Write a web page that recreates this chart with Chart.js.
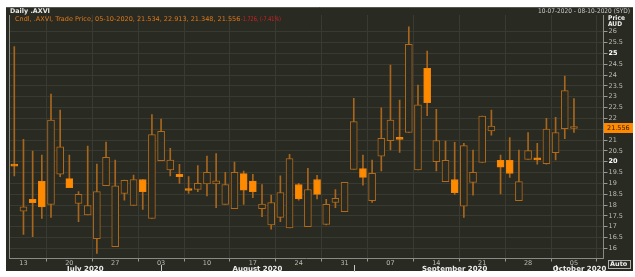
<!DOCTYPE html>
<html><head><meta charset="utf-8">
<script src="https://cdn.jsdelivr.net/npm/chart.js@4.4.0/dist/chart.umd.min.js"></script>
<style>html,body{margin:0;padding:0;background:#fff;overflow:hidden}canvas{display:block}</style>
</head><body>
<canvas id="c" width="635" height="277"></canvas>
<script>
// ---- data ----
const dates = [
 '2020-07-10','2020-07-13','2020-07-14','2020-07-15','2020-07-16','2020-07-17',
 '2020-07-20','2020-07-21','2020-07-22','2020-07-23','2020-07-24',
 '2020-07-27','2020-07-28','2020-07-29','2020-07-30','2020-07-31',
 '2020-08-03','2020-08-04','2020-08-05','2020-08-06','2020-08-07',
 '2020-08-10','2020-08-11','2020-08-12','2020-08-13','2020-08-14',
 '2020-08-17','2020-08-18','2020-08-19','2020-08-20','2020-08-21',
 '2020-08-24','2020-08-25','2020-08-26','2020-08-27','2020-08-28',
 '2020-08-31','2020-09-01','2020-09-02','2020-09-03','2020-09-04',
 '2020-09-07','2020-09-08','2020-09-09','2020-09-10','2020-09-11',
 '2020-09-14','2020-09-15','2020-09-16','2020-09-17','2020-09-18',
 '2020-09-21','2020-09-22','2020-09-23','2020-09-24','2020-09-25',
 '2020-09-28','2020-09-29','2020-09-30','2020-10-01','2020-10-02',
 '2020-10-05'
];
const open  = [19.87,17.72,18.26,19.09,18.03,19.43,19.22,18.08,17.54,16.45,18.89,16.08,18.54,17.98,19.18,17.38,
 20.05,19.62,19.42,18.70,18.72,18.97,18.97,18.03,17.83,19.45,19.11,17.83,17.08,17.43,16.95,18.95,17.00,19.18,17.11,18.12,
 17.69,19.65,19.68,18.20,20.26,20.97,21.12,21.35,19.62,24.31,20.00,19.08,19.18,17.95,19.05,19.97,21.42,20.06,20.06,18.20,
 20.11,20.18,19.91,20.42,21.52,21.534];
const high  = [25.31,21.03,20.49,20.31,23.12,22.38,20.31,18.62,20.72,19.89,20.91,20.08,19.15,19.38,19.18,22.18,
 21.97,20.62,19.88,19.31,19.82,20.26,20.38,19.51,19.98,19.57,19.42,18.95,18.46,19.35,20.34,19.00,19.69,19.37,18.26,18.72,
 19.05,22.92,20.31,20.08,22.49,24.46,22.85,26.23,23.54,25.11,22.42,20.95,20.89,20.85,20.54,22.11,22.38,20.31,21.11,20.54,
 21.34,20.85,22.00,22.05,23.95,22.913];
const low   = [19.34,16.65,16.54,17.38,17.43,19.31,18.80,17.23,17.54,15.77,18.89,16.08,18.23,17.98,17.80,17.38,
 20.05,19.34,19.00,18.54,18.62,18.42,17.88,18.03,17.83,18.03,18.34,17.46,16.89,17.23,16.95,18.23,17.00,18.28,17.08,17.88,
 17.69,19.65,18.92,18.12,19.57,20.54,20.43,21.35,19.62,22.12,19.58,19.08,18.49,17.43,18.46,19.97,21.23,18.51,19.28,18.20,
 20.11,19.89,19.89,20.08,21.06,21.348];
const close = [19.80,17.92,18.11,17.92,21.92,20.69,18.80,18.49,17.98,18.62,20.20,18.89,19.14,19.18,18.62,21.25,
 21.40,20.08,19.31,18.67,19.00,19.51,19.12,18.94,19.51,18.69,18.62,18.05,18.12,18.58,20.15,18.28,18.72,18.49,18.03,18.31,
 19.05,21.85,19.28,19.46,21.08,21.92,21.03,25.42,22.62,22.72,20.98,20.06,18.57,20.74,19.51,22.11,21.65,19.75,19.46,19.08,
 20.51,20.08,21.51,21.35,23.28,21.556];

const yTicks = [16,16.5,17,17.5,18,18.5,19,19.5,20,20.5,21,21.5,22,22.5,23,23.5,24,24.5,25,25.5,26];
const tickDates  = ['2020-07-13','2020-07-20','2020-07-27','2020-08-03','2020-08-10','2020-08-17','2020-08-24',
                    '2020-08-31','2020-09-07','2020-09-14','2020-09-21','2020-09-28','2020-10-05'];
const tickLabels = ['13','20','27','03','10','17','24','31','07','14','21','28','05'];
const monthLabels = ['July 2020','August 2020','September 2020','October 2020'];
const monthStarts = ['2020-07-10','2020-08-03','2020-09-01','2020-10-01'];

const titleText = 'Daily .AXVI';
const legendText = 'Cndl, .AXVI, Trade Price, 05-10-2020, 21.534, 22.913, 21.348, 21.556';
const changeText = '-1.726, (-7.41%)';
const rangeText = '10-07-2020 - 08-10-2020 (SYD)';
const lastPrice = 21.556;

// ---- styles ----
const BG = '#292a22', GRID = '#393a31', FRAME = '#8a8a84';
const UP_EDGE = '#b06a1a', DOWN_FILL = '#ff8a00', WICK = '#a8661c';
const FONT = '"DejaVu Sans", sans-serif';

const tickIdx = tickDates.map(d => dates.indexOf(d));
const isUp = i => close[i] >= open[i];
const isBold = ctx => !!(ctx && ctx.tick && (ctx.tick.value === 20 || ctx.tick.value === 25));

const deco = {
  id: 'deco',
  beforeDraw(chart) {
    const c = chart.ctx;
    c.save();
    c.fillStyle = '#ffffff'; c.fillRect(0, 0, 635, 277);
    c.fillStyle = BG; c.fillRect(6, 7, 627, 264);
    c.strokeStyle = '#55564f'; c.lineWidth = 1;
    c.beginPath(); c.moveTo(6, 7.5); c.lineTo(633, 7.5); c.stroke();
    c.restore();
  },
  afterDraw(chart) {
    const c = chart.ctx, a = chart.chartArea, xs = chart.scales.x, ys = chart.scales.y;
    c.save();
    c.strokeStyle = FRAME; c.lineWidth = 1;
    c.beginPath(); c.moveTo(9.5, a.top); c.lineTo(9.5, a.bottom + 0.5); c.stroke();
    c.textBaseline = 'middle';
    c.font = 'bold 6.5px ' + FONT; c.fillStyle = '#e8e8e8';
    c.fillText(titleText, 10, 11.5, 40);
    c.font = '6.5px ' + FONT; c.fillStyle = '#e07818';
    c.fillText(legendText, 15, 19.5, 226);
    c.fillStyle = '#d42020';
    c.fillText(changeText, 241, 19.5, 40);
    c.fillStyle = '#c8c8c8'; c.textAlign = 'right';
    c.fillText(rangeText, 630, 11.5, 92);
    c.textAlign = 'left'; c.font = 'bold 6.5px ' + FONT; c.fillStyle = '#f0f0f0';
    c.fillText('Price', 608, 18.5, 17);
    c.fillText('AUD', 608, 24.8, 14);
    const yp = ys.getPixelForValue(lastPrice);
    c.fillStyle = '#ff8a00'; c.fillRect(604, yp - 5, 29, 10);
    c.fillStyle = '#2a1a00'; c.font = '6.5px ' + FONT;
    c.fillText(lastPrice.toFixed(3), 607, yp + 0.5, 25);
    c.strokeStyle = '#b0b0b0'; c.strokeRect(608.5, 260.5, 22, 8);
    c.fillStyle = '#f0f0f0'; c.font = 'bold 6.5px ' + FONT;
    c.fillText('Auto', 610, 264.8, 19);
    c.beginPath(); c.rect(6, 7, 627, 265); c.clip();
    const starts = monthStarts.map(d => dates.indexOf(d));
    c.strokeStyle = '#c8c8c8';
    for (let m = 0; m < monthLabels.length; m++) {
      const x0 = m === 0 ? a.left : xs.getPixelForValue(starts[m]);
      const x1 = m === monthLabels.length - 1 ? a.right : xs.getPixelForValue(starts[m + 1]);
      if (m > 0) {
        const xx = Math.round(x0) + 0.5;
        c.beginPath(); c.moveTo(xx, 265); c.lineTo(xx, 272); c.stroke();
      }
      c.fillStyle = '#eeeeee'; c.font = 'bold 7px ' + FONT; c.textAlign = 'center';
      c.fillText(monthLabels[m], (x0 + x1) / 2, 269);
    }
    c.restore();
  }
};

new Chart(document.getElementById('c'), {
  type: 'bar',
  data: {
    datasets: [
      {
        label: 'body', order: 0, grouped: false,
        data: dates.map((d, i) => ({ x: i, y: [open[i], close[i]] })),
        backgroundColor: ctx => isUp(ctx.dataIndex) ? BG : DOWN_FILL,
        borderColor: ctx => isUp(ctx.dataIndex) ? UP_EDGE : '#f08408',
        borderWidth: 1, borderSkipped: false, barThickness: 7, minBarLength: 2
      },
      {
        label: 'wick', order: 1, grouped: false,
        data: dates.map((d, i) => ({ x: i, y: [low[i], high[i]] })),
        backgroundColor: WICK, borderWidth: 0, barThickness: 1
      }
    ]
  },
  options: {
    responsive: false, animation: false, devicePixelRatio: 1,
    layout: { padding: { left: 9.5, top: 15, right: 0, bottom: 0 } },
    plugins: { legend: { display: false }, tooltip: { enabled: false } },
    scales: {
      x: {
        type: 'linear', min: -0.523, max: 64.22, offset: false,
        afterBuildTicks: s => { s.ticks = tickIdx.map(v => ({ value: v })); },
        afterFit: s => { s.height = 18.5; },
        grid: { color: GRID, tickColor: '#9a9a94', tickLength: 3, lineWidth: 1 },
        border: { display: true, color: FRAME },
        ticks: {
          autoSkip: false, maxRotation: 0, padding: -2,
          color: '#bdbdb8', font: { family: FONT, size: 6.5 },
          callback: v => tickLabels[tickIdx.indexOf(v)]
        }
      },
      y: {
        type: 'linear', position: 'right', min: 15.534, max: 26.771,
        afterBuildTicks: s => { s.ticks = yTicks.map(v => ({ value: v })); },
        afterFit: s => { s.width = 31.5; },
        grid: { color: GRID, tickColor: '#9a9a94', tickLength: 4, lineWidth: 1 },
        border: { display: true, color: FRAME },
        ticks: {
          padding: 1,
          color: ctx => isBold(ctx) ? '#ffffff' : '#bdbdb8',
          font: ctx => ({ family: FONT, size: 6.5, weight: isBold(ctx) ? 'bold' : 'normal' }),
          callback: v => String(v)
        }
      }
    }
  },
  plugins: [deco]
});
</script>
</body></html>
